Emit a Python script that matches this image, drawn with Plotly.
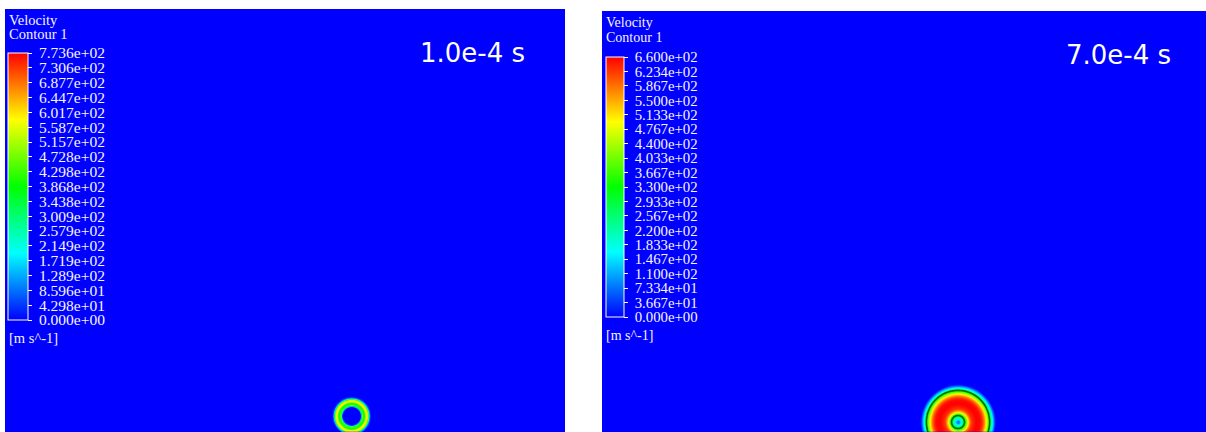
import numpy as np
import plotly.graph_objects as go

# Colour legend labels of the two contour snapshots (m/s)
left_tick_labels = ["7.736e+02", "7.306e+02", "6.877e+02", "6.447e+02", "6.017e+02",
                    "5.587e+02", "5.157e+02", "4.728e+02", "4.298e+02", "3.868e+02",
                    "3.438e+02", "3.009e+02", "2.579e+02", "2.149e+02", "1.719e+02",
                    "1.289e+02", "8.596e+01", "4.298e+01", "0.000e+00"]
right_tick_labels = ["6.600e+02", "6.234e+02", "5.867e+02", "5.500e+02", "5.133e+02",
                     "4.767e+02", "4.400e+02", "4.033e+02", "3.667e+02", "3.300e+02",
                     "2.933e+02", "2.567e+02", "2.200e+02", "1.833e+02", "1.467e+02",
                     "1.100e+02", "7.334e+01", "3.667e+01", "0.000e+00"]
left_ticks = [float(s) for s in left_tick_labels]
right_ticks = [float(s) for s in right_tick_labels]

time_labels = ["1.0e-4 s", "7.0e-4 s"]

# Radial velocity profiles of the expanding wave front (radius in px, velocity in m/s)
left_radius = [0.0, 9.0, 10.0, 11.0, 12.0, 13.0, 14.2, 15.5, 16.5, 17.4, 18.3, 19.3]
left_velocity = [0.0, 0.0, 250.0, 470.0, 400.0, 390.0, 560.0, 600.0, 470.0, 230.0, 70.0, 0.0]

right_radius = [0.0, 1.5, 3.0, 4.5, 6.0, 7.2, 8.5, 10.0, 11.5, 13.5, 18.0, 22.0,
                24.0, 26.0, 28.0, 30.0, 32.0, 34.0, 36.0, 37.5]
right_velocity = [60.0, 90.0, 180.0, 230.0, 290.0, 340.0, 420.0, 500.0, 580.0, 630.0,
                  660.0, 655.0, 630.0, 580.0, 500.0, 400.0, 290.0, 180.0, 70.0, 0.0]
right_dark_level = 310.0

# Rainbow colour map used by the contour plots
rainbow = [[0.0, "rgb(0,0,255)"], [0.25, "rgb(0,255,255)"], [0.5, "rgb(0,255,0)"],
           [0.75, "rgb(255,255,0)"], [1.0, "rgb(255,0,0)"]]

W, H = 1206, 432
# panel placement in pixels: left, top, right
panels = [(5, 9, 565), (602, 11, 1206)]
centers = [(346.5, 407.0), (356.0, 411.0)]

NB = "\u00a0"


def field(cx, cy, radius, velocity, half=45, step=0.5):
    xs = np.arange(cx - half, cx + half + step, step)
    ys = np.arange(cy - half, cy + half + step, step)
    X, Y = np.meshgrid(xs, ys)
    R = np.hypot(X - cx, Y - cy)
    Z = np.interp(R, radius, velocity, right=0.0)
    return xs, ys, Z


fig = go.Figure()

profiles = [(left_radius, left_velocity, left_ticks, left_tick_labels),
            (right_radius, right_velocity, right_ticks, right_tick_labels)]
bar_geom = [  # x, top, length, thickness, font size
    (8, 53, 267, 20, 15.5),
    (606, 57, 260, 18, 14.8),
]

for i, ((rad, vel, ticks, labels), (cx, cy), (bx, btop, blen, bth, fs)) in enumerate(
        zip(profiles, centers, bar_geom)):
    xs, ys, Z = field(cx, cy, rad, vel)
    ax = "" if i == 0 else "2"
    fig.add_trace(go.Heatmap(
        x=xs, y=ys, z=Z, zmin=0, zmax=max(ticks), colorscale=rainbow,
        zsmooth="best", xaxis="x" + ax, yaxis="y" + ax,
        hoverinfo="skip",
        colorbar=dict(
            xref="container", yref="container",
            x=bx / W, xanchor="left", xpad=0,
            y=1 - btop / H, yanchor="top", ypad=0,
            lenmode="pixels", len=blen,
            thicknessmode="pixels", thickness=bth,
            outlinecolor="white", outlinewidth=1,
            tickmode="array", tickvals=ticks,
            ticktext=[NB + s for s in labels],
            ticks="outside", ticklen=4, tickcolor="white",
            tickfont=dict(family="Liberation Serif", size=fs, color="#f4f4ff"),
        ),
    ))
    if i == 1:
        fig.add_trace(go.Contour(
            x=xs, y=ys, z=Z, xaxis="x2", yaxis="y2", showscale=False,
            contours=dict(start=right_dark_level, end=right_dark_level, size=1,
                          coloring="lines"),
            colorscale=[[0, "rgb(0,110,0)"], [1, "rgb(0,110,0)"]],
            line=dict(width=1.6, smoothing=1), hoverinfo="skip",
        ))

layout = dict(
    width=W, height=H, margin=dict(l=0, r=0, t=0, b=0, autoexpand=False),
    paper_bgcolor="white", plot_bgcolor="rgb(0,0,255)", showlegend=False,
)
title_rows = [(20, 34, 338), (22, 37, 335)]  # Velocity, Contour 1, unit label centres
annotations = []
for i, ((pl, pt, pr), tlabel, rows) in enumerate(zip(panels, time_labels, title_rows)):
    ax = "" if i == 0 else "2"
    pw, ph = pr - pl, H - pt
    layout["xaxis" + ax] = dict(domain=[pl / W, pr / W], range=[0, pw], visible=False,
                                fixedrange=True)
    layout["yaxis" + ax] = dict(domain=[0, ph / H], range=[ph, 0], visible=False,
                                fixedrange=True)
    tf = 14.5 if i == 0 else 14
    for txt, yc in zip(["Velocity", "Contour 1", "[m s^-1]"], rows):
        annotations.append(dict(
            text=txt, xref="paper", yref="paper",
            x=(pl + 2) / W, y=1 - yc / H, xanchor="left", yanchor="middle",
            showarrow=False, font=dict(family="Liberation Serif", size=tf, color="#f4f4ff")))
    annotations.append(dict(
        text=tlabel, xref="paper", yref="paper",
        x=(527 if i == 0 else 1173) / W, y=1 - (53 if i == 0 else 55) / H,
        xanchor="right", yanchor="middle", showarrow=False,
        font=dict(family="DejaVu Sans", size=26, color="white")))
layout["annotations"] = annotations
fig.update_layout(**layout)

fig.write_html("out.html")
